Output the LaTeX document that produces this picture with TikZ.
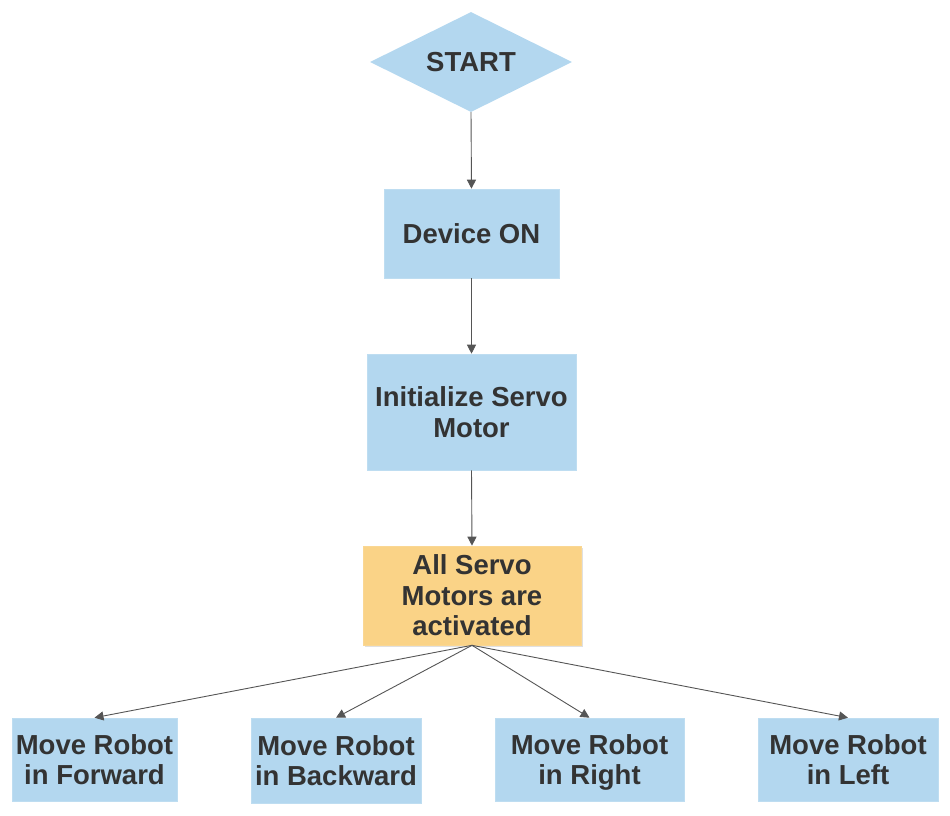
\documentclass[tikz,border=0pt]{standalone}
\usepackage{fontspec}
\setmainfont{Liberation Sans}[BoldFont={Liberation Sans Bold}]
\usetikzlibrary{shapes.geometric,arrows.meta,shadows}
\definecolor{boxblue}{HTML}{B3D7EF}
\definecolor{boxorange}{HTML}{FAD387}
\definecolor{txt}{HTML}{333333}
\definecolor{arr}{HTML}{555555}
\newcommand\vst{\vphantom{Ag}}
\newcommand\fst{\rule{0pt}{25.5pt}\vphantom{Ag}}
\begin{document}
\begin{tikzpicture}[x=1pt,y=-1pt,
  lbl/.style={text=txt,font=\fontsize{27.5}{30.5}\selectfont\bfseries,align=center,inner sep=0pt},
  bluebox/.style={lbl,fill=boxblue,draw=boxblue!85!white,line width=0.6pt,rectangle},
  conn/.style={draw=arr,line width=0.9pt,-{Triangle[width=9pt,length=9pt]}}]
\useasboundingbox (0,0) rectangle (950,816);
\node[lbl,diamond,fill=boxblue,aspect=2.02,minimum width=202pt,minimum height=100pt] (start) at (471,62) {\fst START};
\node[bluebox,minimum width=175pt,minimum height=89pt] (dev) at (471.5,233.5) {\fst Device ON};
\node[bluebox,minimum width=209pt,minimum height=116pt] (init) at (471.5,412) {\fst Initialize Servo\\\vst Motor};
\node[lbl,rectangle,fill=boxorange,draw=boxorange!90!white,line width=0.6pt,minimum width=218pt,minimum height=99pt,
  drop shadow={shadow xshift=1.5pt,shadow yshift=-1.5pt,fill=black,opacity=0.12}] (servo) at (472,595.5) {\fst All Servo\\\vst Motors are\\\vst activated};
\node[bluebox,minimum width=165pt,minimum height=83pt] (fwd) at (94.5,759.5) {\fst Move Robot\\\vst in Forward};
\node[bluebox,minimum width=170pt,minimum height=85pt] (bwd) at (336,760.5) {\fst Move Robot\\\vst in Backward};
\node[bluebox,minimum width=189pt,minimum height=83pt] (rgt) at (589.5,759.5) {\fst Move Robot\\\vst in Right};
\node[bluebox,minimum width=180pt,minimum height=83pt] (lft) at (848,759.5) {\fst Move Robot\\\vst in Left};
\draw[conn] (start.south) -- (dev.north);
\draw[conn] (dev.south) -- (init.north);
\draw[conn] (init.south) -- (servo.north);
\draw[conn] (servo.south) -- (fwd.north);
\draw[conn] (servo.south) -- (bwd.north);
\draw[conn] (servo.south) -- (rgt.north);
\draw[conn] (servo.south) -- (lft.north);
\end{tikzpicture}
\end{document}
